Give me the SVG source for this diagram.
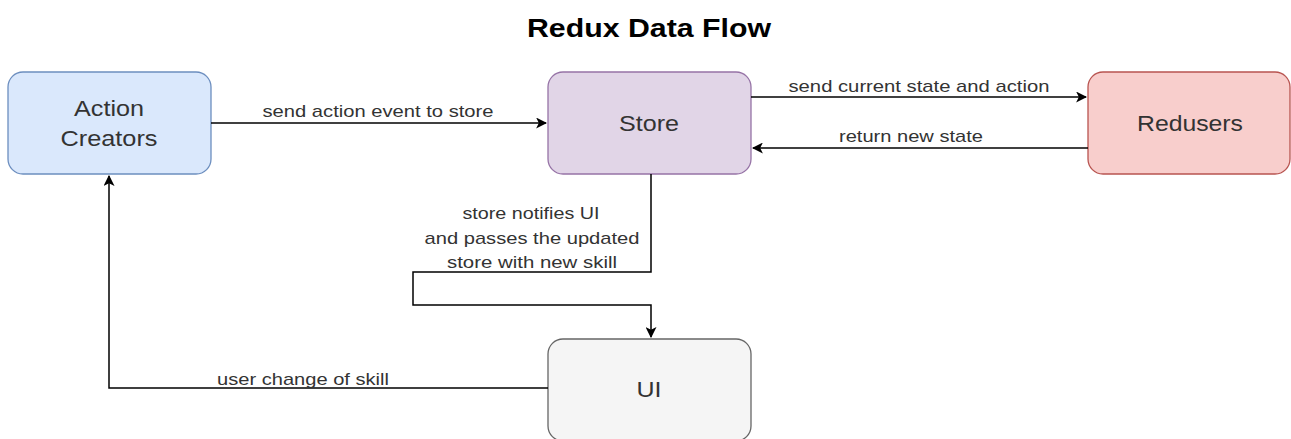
<svg xmlns="http://www.w3.org/2000/svg" width="1291" height="439" viewBox="0 0 1291 439">
<style>
.node{stroke-width:1.3}
.nt{font-family:"Liberation Sans",Arial,sans-serif;font-size:22px;fill:#333333;text-anchor:middle}
.el{font-family:"Liberation Sans",Arial,sans-serif;font-size:17px;fill:#333333;text-anchor:middle}
.edge{fill:none;stroke:#000;stroke-width:1.5}
.title{font-family:"Liberation Sans",Arial,sans-serif;font-size:25px;font-weight:bold;fill:#000;text-anchor:middle}
</style>
<defs>
<marker id="arr" viewBox="0 0 10 10" refX="9" refY="5" markerWidth="11" markerHeight="11" markerUnits="userSpaceOnUse" orient="auto">
<path d="M0,0 L10,5 L0,10 L2.5,5 Z" fill="#000"/>
</marker>
</defs>
<rect width="1291" height="439" fill="#fff"/>
<text class="title" x="649" y="37" textLength="244" lengthAdjust="spacingAndGlyphs">Redux Data Flow</text>
<g id="node-action-creators">
<rect class="node" x="8" y="72" width="203" height="102" rx="15" fill="#dae8fc" stroke="#6c8ebf"/>
<text class="nt" x="109" y="116" textLength="70" lengthAdjust="spacingAndGlyphs">Action</text>
<text class="nt" x="109" y="146" textLength="97" lengthAdjust="spacingAndGlyphs">Creators</text>
</g>
<g id="node-store">
<rect class="node" x="548" y="72" width="203" height="102" rx="15" fill="#e1d5e7" stroke="#9673a6"/>
<text class="nt" x="649" y="131" textLength="60" lengthAdjust="spacingAndGlyphs">Store</text>
</g>
<g id="node-redusers">
<rect class="node" x="1088" y="72" width="202" height="102" rx="15" fill="#f8cecc" stroke="#b85450"/>
<text class="nt" x="1190" y="131" textLength="106" lengthAdjust="spacingAndGlyphs">Redusers</text>
</g>
<g id="node-ui">
<rect class="node" x="548" y="339" width="203" height="102" rx="15" fill="#f5f5f5" stroke="#666666"/>
<text class="nt" x="649" y="397" textLength="25" lengthAdjust="spacingAndGlyphs">UI</text>
</g>
<g id="connectors">
<path class="edge" d="M211,123 L546,123" marker-end="url(#arr)"/>
<text class="el" x="378" y="117" textLength="231" lengthAdjust="spacingAndGlyphs">send action event to store</text>
<path class="edge" d="M751,97 L1086,97" marker-end="url(#arr)"/>
<text class="el" x="919" y="92" textLength="261" lengthAdjust="spacingAndGlyphs">send current state and action</text>
<path class="edge" d="M1088,148 L753,148" marker-end="url(#arr)"/>
<text class="el" x="911" y="142" textLength="144" lengthAdjust="spacingAndGlyphs">return new state</text>
<path class="edge" d="M651,174 L651,272 L413,272 L413,305 L651,305 L651,337" marker-end="url(#arr)"/>
<text class="el" x="531" y="219" textLength="137" lengthAdjust="spacingAndGlyphs">store notifies UI</text>
<text class="el" x="532" y="244" textLength="215" lengthAdjust="spacingAndGlyphs">and passes the updated</text>
<text class="el" x="532" y="268" textLength="170" lengthAdjust="spacingAndGlyphs">store with new skill</text>
<path class="edge" d="M548,388 L109,388 L109,176" marker-end="url(#arr)"/>
<text class="el" x="303" y="385" textLength="172" lengthAdjust="spacingAndGlyphs">user change of skill</text>
</g>
</svg>
